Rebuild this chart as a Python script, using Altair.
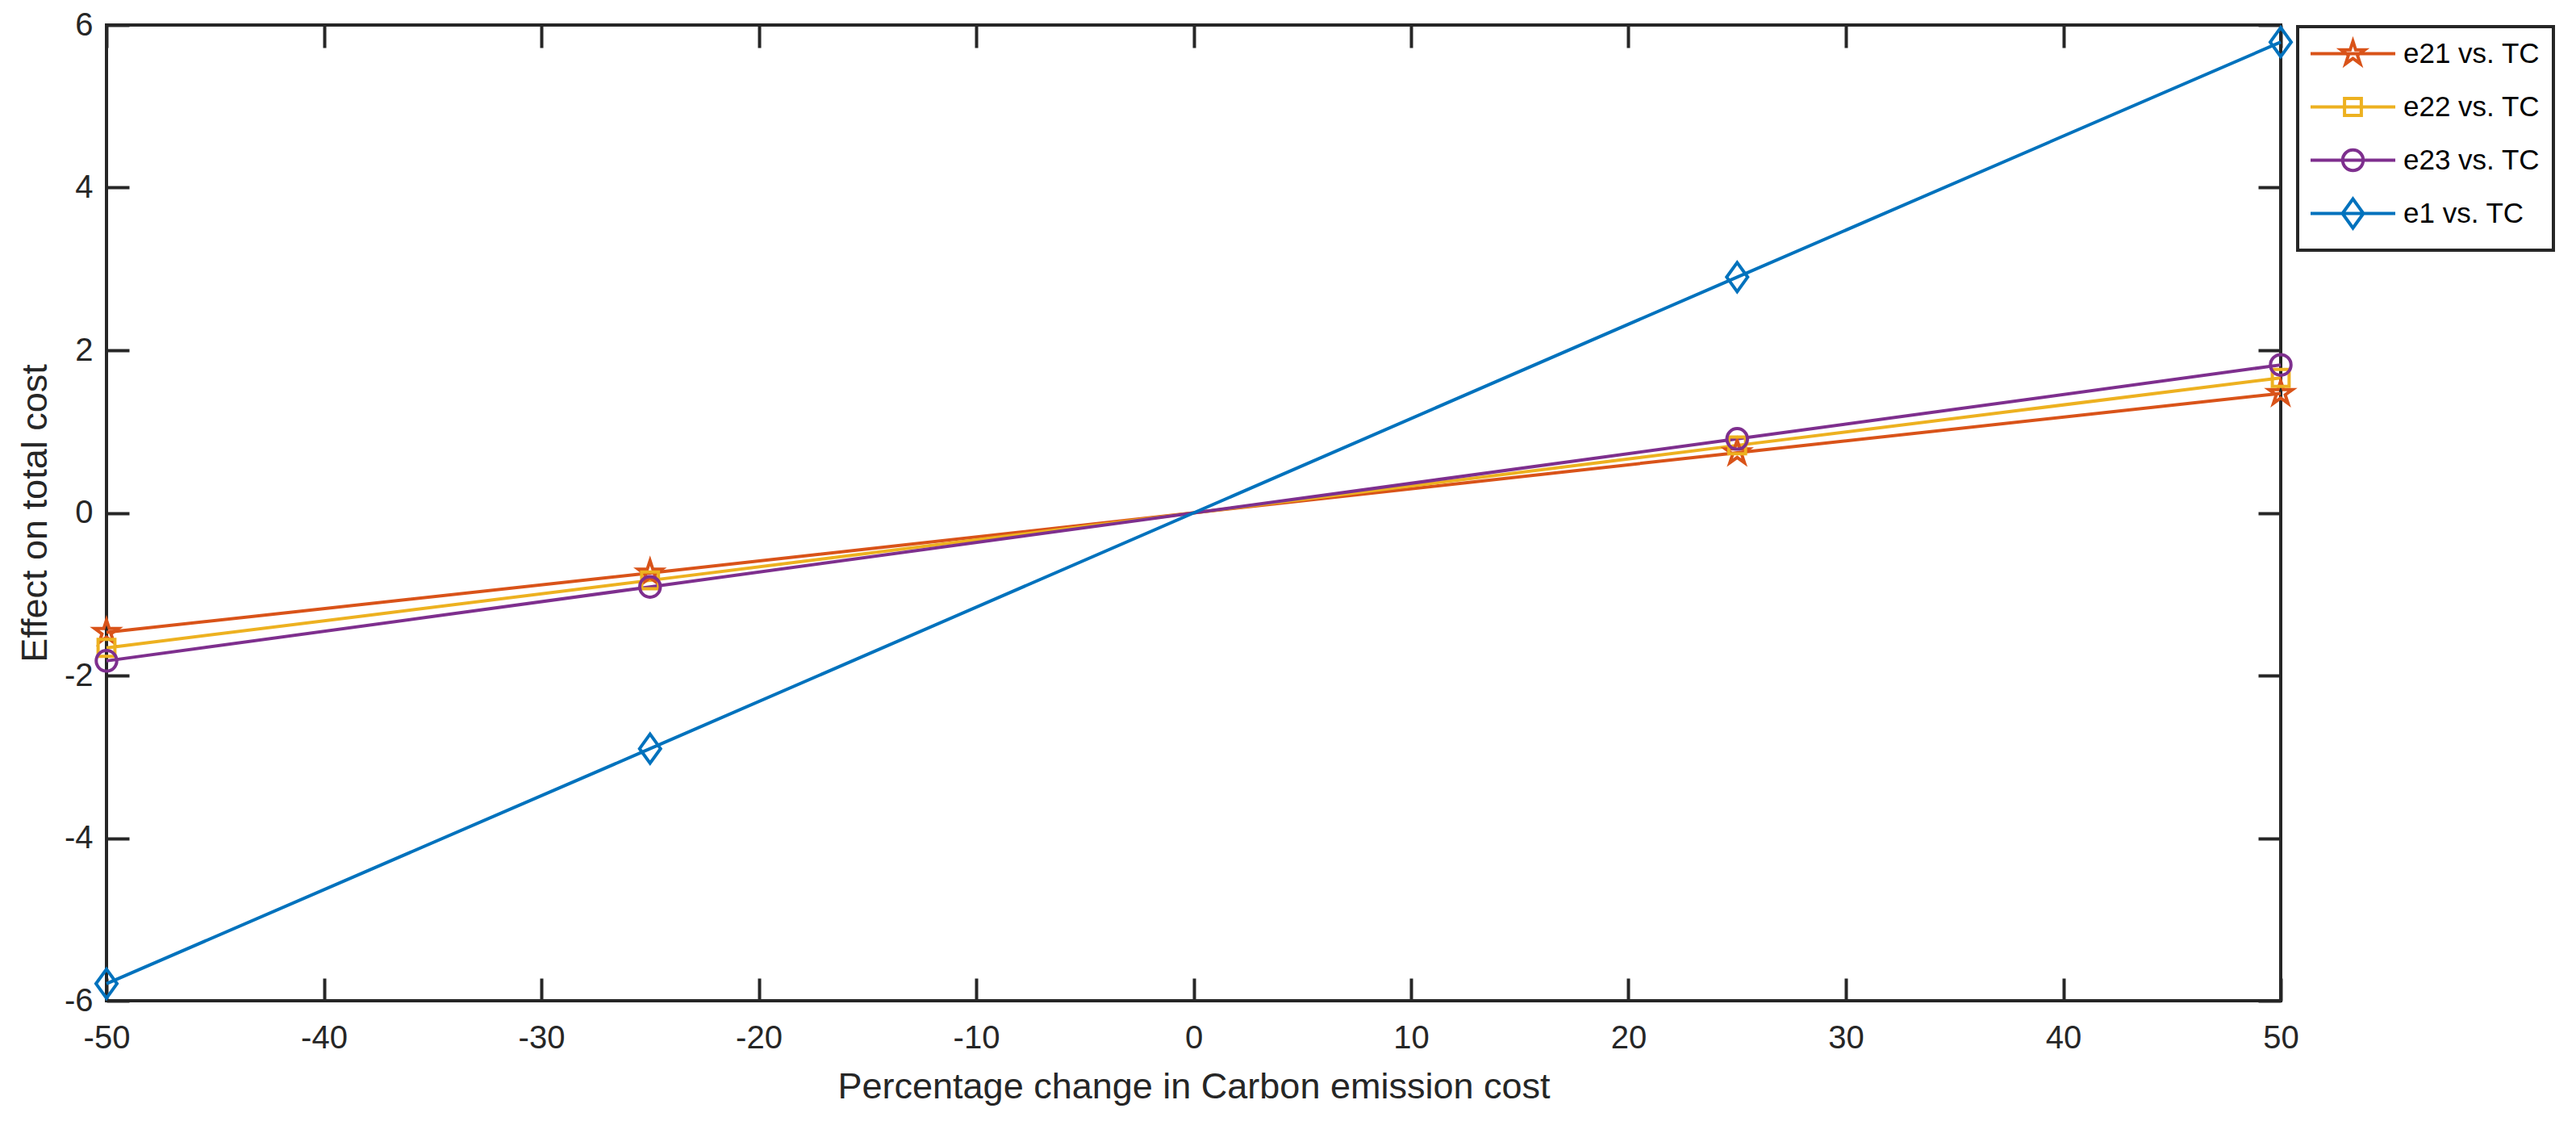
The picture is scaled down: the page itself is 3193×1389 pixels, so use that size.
import math
import altair as alt
import pandas as pd

# ---------------- data ----------------
x_values = [-50, -25, 25, 50]
e21_values = [-1.47, -0.74, 0.74, 1.47]
e22_values = [-1.66, -0.83, 0.83, 1.66]
e23_values = [-1.82, -0.91, 0.91, 1.82]
e1_values = [-5.79, -2.9, 2.9, 5.79]
series_names = ["e21 vs. TC", "e22 vs. TC", "e23 vs. TC", "e1 vs. TC"]
series_colors = ["#D95319", "#EDB120", "#7E2F8E", "#0072BD"]
x_ticks = [-50, -40, -30, -20, -10, 0, 10, 20, 30, 40, 50]
y_ticks = [-6, -4, -2, 0, 2, 4, 6]
x_title = "Percentage change in Carbon emission cost"
y_title = "Effect on total cost"

rows = []
for name, vals in zip(series_names, [e21_values, e22_values, e23_values, e1_values]):
    for xv, yv in zip(x_values, vals):
        rows.append({"series": name, "x": xv, "y": yv})
df = pd.DataFrame(rows)

# ---------------- styling ----------------
FONT = "Liberation Sans"
AX = "#262626"
W, H = 2695, 1209
TICK = 28


def f(v):
    s = f"{v:.3f}".rstrip("0").rstrip(".")
    return "0" if s in ("-0", "") else s


def star_path(R, r):
    pts = []
    for k in range(10):
        ang = math.radians(-90 + 36 * k)
        rad = R if k % 2 == 0 else r
        pts.append((rad * math.cos(ang), rad * math.sin(ang)))
    return "M" + "L".join(f"{f(a)},{f(b)}" for a, b in pts) + "Z"


def circle_path(r):
    return f"M{f(-r)},0A{f(r)},{f(r)} 0 1,1 {f(r)},0A{f(r)},{f(r)} 0 1,1 {f(-r)},0Z"


star = star_path(1.18, 0.45)
square = "M-0.8,-0.8L0.8,-0.8L0.8,0.8L-0.8,0.8Z"
circ = circle_path(0.98)
diamond = "M0,-1.385L1,0L0,1.385L-1,0Z"
marker_paths = [star, square, circ, diamond]

legline = "M-4.04,0L4.04,0"
pad_box = "M0,-1.95M0,1.6"
legend_paths = [legline + p + pad_box for p in marker_paths]

x_scale = alt.Scale(domain=[-50, 50], nice=False, zero=False)
y_scale = alt.Scale(domain=[-6, 6], nice=False, zero=False)
color_scale = alt.Scale(domain=series_names, range=series_colors)

legend = alt.Legend(
    title=None,
    orient="none",
    legendX=2716,
    legendY=2,
    padding=16,
    strokeColor=AX,
    fillColor="white",
    labelFont=FONT,
    labelFontSize=35,
    labelColor="black",
    labelLimit=0,
    symbolSize=676,
    symbolStrokeWidth=4,
    symbolFillColor="transparent",
    symbolOffset=35,
    labelOffset=45,
    rowPadding=3,
)

common_axis = dict(
    tickSize=TICK,
    tickWidth=4,
    tickColor=AX,
    offset=-TICK,
    domain=False,
    grid=False,
)

x_axis_bottom = alt.Axis(
    orient="bottom",
    values=x_ticks,
    labelFont=FONT,
    labelFontSize=40,
    labelColor=AX,
    labelPadding=58,
    labelBaseline="alphabetic",
    labelExpr="'' + datum.value",
    labelFlush=False,
    labelOverlap=False,
    title=x_title,
    titleFont=FONT,
    titleFontSize=45,
    titleFontWeight="normal",
    titleColor=AX,
    titleBaseline="alphabetic",
    titleX=W / 2,
    titleY=148,
    **common_axis,
)
y_axis_left = alt.Axis(
    orient="left",
    values=y_ticks,
    labelFont=FONT,
    labelFontSize=40,
    labelColor=AX,
    labelPadding=17,
    labelExpr="'' + datum.value",
    labelFlush=False,
    labelOverlap=False,
    title=y_title,
    titleFont=FONT,
    titleFontSize=45,
    titleFontWeight="normal",
    titleColor=AX,
    titleBaseline="alphabetic",
    titleAngle=270,
    titleX=-103,
    titleY=H / 2,
    **common_axis,
)
x_axis_top = alt.Axis(orient="top", values=x_ticks, labels=False, title=None, **common_axis)
y_axis_right = alt.Axis(orient="right", values=y_ticks, labels=False, title=None, **common_axis)

lines = alt.Chart(df).mark_line(strokeWidth=4).encode(
    x=alt.X("x:Q", scale=x_scale, axis=x_axis_bottom),
    y=alt.Y("y:Q", scale=y_scale, axis=y_axis_left),
    color=alt.Color("series:N", scale=color_scale, legend=None),
)

points = alt.Chart(df).mark_point(filled=False, strokeWidth=4, size=676, opacity=1).encode(
    x=alt.X("x:Q", scale=x_scale, axis=x_axis_top),
    y=alt.Y("y:Q", scale=y_scale, axis=y_axis_right),
    color=alt.Color("series:N", scale=color_scale, legend=None),
    shape=alt.Shape("series:N", scale=alt.Scale(domain=series_names, range=marker_paths), legend=None),
)

legend_layer = (
    alt.Chart(df)
    .transform_filter("false")
    .mark_point(filled=False, strokeWidth=4, size=676, opacity=1)
    .encode(
        color=alt.Color("series:N", scale=color_scale, legend=legend),
        shape=alt.Shape("series:N", scale=alt.Scale(domain=series_names, range=legend_paths), legend=legend),
    )
)

chart = (
    alt.layer(lines, points, legend_layer)
    .resolve_scale(color="independent", shape="independent")
    .resolve_axis(x="independent", y="independent")
    .properties(
        width=W,
        height=H,
        autosize=alt.AutoSizeParams(type="none"),
        padding={"left": 124, "top": 23, "right": 358, "bottom": 141},
        background="white",
    )
    .configure_view(stroke=AX, strokeWidth=4)
    .configure_legend(strokeWidth=4, labelFontSize=35, labelFont=FONT, labelLimit=0)
)

chart.save("out.html", embed_options={"renderer": "svg", "actions": False})
